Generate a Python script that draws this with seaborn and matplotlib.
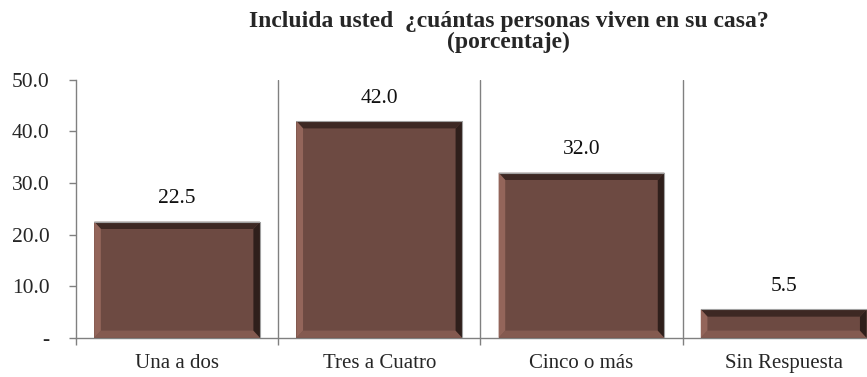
import matplotlib
matplotlib.use("Agg")
import matplotlib.pyplot as plt
import numpy as np
import pandas as pd
import seaborn as sns
from matplotlib.patches import Polygon

categorias = ["Una a dos", "Tres a Cuatro", "Cinco o más", "Sin Respuesta"]
porcentaje = [22.5, 42.0, 32.0, 5.5]
ytick_vals = [0, 10, 20, 30, 40, 50]
ytick_labels = ["-", "10.0", "20.0", "30.0", "40.0", "50.0"]

data = pd.DataFrame({"cat": categorias, "pct": porcentaje})

sns.set_style("white")
plt.rcParams["font.family"] = ["Liberation Serif", "DejaVu Serif"]

fig = plt.figure(figsize=(8.67, 3.77), dpi=100)
ax = fig.add_axes([0.0877, 0.104, 0.9328, 0.684])

face = "#6d4a42"
sns.barplot(data=data, x="cat", y="pct", color=face, width=0.82,
            saturation=1, ax=ax, edgecolor="none")

# fake bevel on each bar
for p in ax.patches:
    x0, y0 = p.get_x(), p.get_y()
    w, h = p.get_width(), p.get_height()
    x1, y1 = x0 + w, y0 + h
    bx = w * 0.04
    by = min(h * 0.35, 1.4)
    inner = [(x0 + bx, y0 + by), (x1 - bx, y0 + by), (x1 - bx, y1 - by), (x0 + bx, y1 - by)]
    outer = [(x0, y0), (x1, y0), (x1, y1), (x0, y1)]
    sides = [
        ([outer[0], outer[1], inner[1], inner[0]], "#845a50"),  # bottom
        ([outer[1], outer[2], inner[2], inner[1]], "#2f1f1b"),  # right
        ([outer[2], outer[3], inner[3], inner[2]], "#3d2823"),  # top
        ([outer[3], outer[0], inner[0], inner[3]], "#93655a"),  # left
    ]
    for pts, c in sides:
        ax.add_patch(Polygon(pts, closed=True, facecolor=c, edgecolor="none", zorder=3))
    ax.plot([x0, x1, x1], [y1, y1, y0], color="#a0a0a0", lw=0.8, zorder=4)

for i, v in enumerate(porcentaje):
    ax.text(i, v + 2.6, f"{v:.1f}", ha="center", va="bottom", fontsize=15.5, color="#111111")

ax.set_ylim(0, 50)
ax.set_xlim(-0.5, 3.42)
ax.set_yticks(ytick_vals)
ax.set_yticklabels(ytick_labels, fontsize=15.5)
ax.set_xlabel("")
ax.set_ylabel("")
ax.tick_params(axis="x", labelsize=15, length=0, pad=12)
ax.tick_params(axis="y", length=5, width=1, color="#808080", left=True, pad=14)

# separators between categories
sep = np.arange(len(categorias)) + 0.5
for s in sep[:-1]:
    ax.axvline(s, color="#808080", lw=1.0, zorder=1)
ax.set_xticks(list(range(len(categorias))))
ax.set_xticks(np.concatenate([[-0.5], sep]), minor=True)
ax.tick_params(axis="x", which="minor", length=5, width=1, color="#808080", bottom=True)

for side in ["top", "right"]:
    ax.spines[side].set_visible(False)
for side in ["left", "bottom"]:
    ax.spines[side].set_color("#808080")
    ax.spines[side].set_linewidth(1.0)

fig.text(0.587, 0.915, "Incluida usted  ¿cuántas personas viven en su casa?\n(porcentaje)",
         ha="center", va="center", fontsize=17, fontweight="bold", linespacing=0.95)

fig.savefig("out.png", dpi=100)
